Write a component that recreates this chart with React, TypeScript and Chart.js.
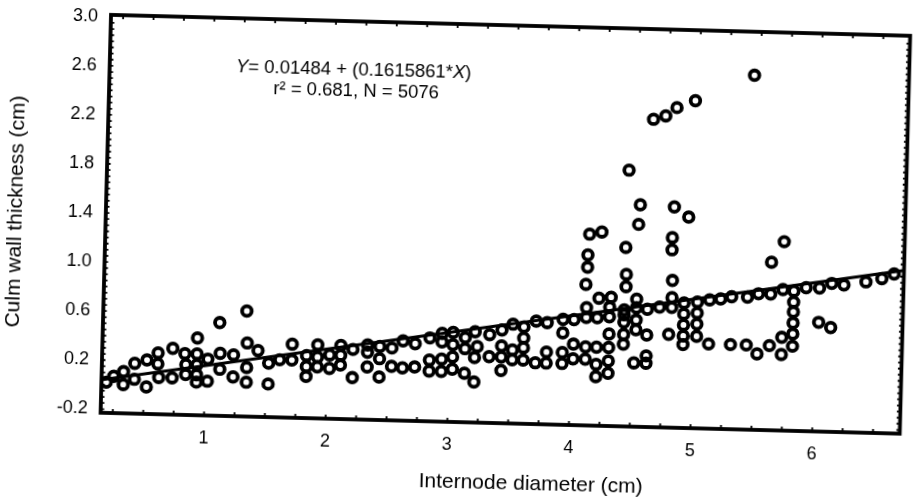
import React, { useEffect, useRef } from "react";
import { Chart, registerables } from "chart.js";

Chart.register(...registerables);

// Axis ticks and ranges
const xTickValues = [1, 2, 3, 4, 5, 6];
const yTickValues = [-0.2, 0.2, 0.6, 1.0, 1.4, 1.8, 2.2, 2.6, 3.0];
const xRange = [0.15, 6.72];
const yRange = [-0.23, 3.015];

// Regression stated on the chart
const intercept = 0.01484;
const slope = 0.1615861;
const equationParts: [string, boolean][] = [
  ["Y", true],
  ["= 0.01484 + (0.1615861*", false],
  ["X", true],
  [")", false],
];
const statsLine = "r\u00B2 = 0.681, N = 5076";

const xTitle = "Internode diameter (cm)";
const yTitle = "Culm wall thickness (cm)";

const diameter = [
  0.19, 0.25, 0.33, 0.33, 0.42, 0.42, 0.52, 0.52, 0.61, 0.61, 0.62, 0.73, 0.73, 0.83, 0.84, 0.84,
  0.93, 0.93, 0.93, 0.93, 0.93, 1.02, 1.02, 1.11, 1.12, 1.12, 1.23, 1.23, 1.33, 1.34, 1.34, 1.34,
  1.43, 1.52, 1.52, 1.61, 1.71, 1.71, 1.83, 1.83, 1.83, 1.92, 1.92, 1.92, 2.02, 2.02, 2.11, 2.11,
  2.11, 2.21, 2.21, 2.33, 2.33, 2.33, 2.43, 2.43, 2.43, 2.53, 2.53, 2.62, 2.62, 2.72, 2.72, 2.84,
  2.84, 2.84, 2.94, 2.94, 2.94, 2.94, 3.03, 3.03, 3.03, 3.03, 3.13, 3.13, 3.13, 3.21, 3.21, 3.21,
  3.23, 3.33, 3.33, 3.43, 3.43, 3.43, 3.43, 3.52, 3.52, 3.52, 3.61, 3.61, 3.61, 3.61, 3.71, 3.71,
  3.80, 3.80, 3.80, 3.93, 3.93, 3.93, 3.93, 4.02, 4.02, 4.02, 4.12, 4.12, 4.12, 4.21, 4.21, 4.21,
  4.21, 4.31, 4.31, 4.31, 4.31, 4.31, 4.43, 4.43, 4.43, 4.43, 4.53, 4.53, 4.53, 4.62, 4.62, 4.52,
  4.62, 4.62, 4.72, 4.80, 4.82, 4.82, 4.82, 4.92, 4.92, 4.92, 4.92, 4.92, 5.03, 5.03, 5.03, 5.03,
  5.13, 5.13, 5.22, 5.31, 5.31, 5.44, 5.44, 5.53, 5.53, 5.63, 5.63, 5.63, 5.73, 5.73, 5.73, 5.73,
  5.82, 5.82, 5.82, 5.82, 5.82, 5.82, 5.92, 6.03, 6.03, 6.13, 6.13, 6.23, 6.41, 6.54, 6.64,
  5.45, 4.63, 4.73, 4.82, 4.97, 4.44, 4.54, 4.53, 4.82, 4.94, 4.13, 4.23, 4.12, 4.12, 4.11, 4.12,
  4.22, 4.32, 4.43, 4.44, 4.44, 4.81, 4.81, 4.53, 4.43, 4.31,
];
const thickness = [
  0.02, 0.07, 0.11, 0.005, 0.18, 0.05, 0.21, -0.01, 0.27, 0.18, 0.07, 0.31, 0.07, 0.27, 0.18, 0.10,
  0.40, 0.27, 0.18, 0.10, 0.04, 0.23, 0.05, 0.53, 0.28, 0.15, 0.27, 0.09, 0.63, 0.37, 0.17, 0.05,
  0.31, 0.21, 0.04, 0.24, 0.37, 0.24, 0.28, 0.19, 0.11, 0.37, 0.27, 0.19, 0.29, 0.18, 0.37, 0.29,
  0.21, 0.34, 0.11, 0.38, 0.32, 0.20, 0.37, 0.27, 0.12, 0.36, 0.21, 0.42, 0.20, 0.40, 0.21, 0.45,
  0.27, 0.18, 0.49, 0.42, 0.28, 0.18, 0.50, 0.40, 0.30, 0.20, 0.46, 0.37, 0.17, 0.51, 0.30, 0.10,
  0.39, 0.49, 0.31, 0.53, 0.40, 0.31, 0.20, 0.58, 0.37, 0.29, 0.56, 0.47, 0.39, 0.29, 0.61, 0.27,
  0.60, 0.36, 0.27, 0.63, 0.52, 0.36, 0.27, 0.63, 0.43, 0.31, 0.65, 0.41, 0.31, 0.65, 0.41, 0.27,
  0.17, 0.66, 0.52, 0.41, 0.30, 0.20, 0.68, 0.62, 0.52, 0.44, 0.74, 0.64, 0.56, 0.73, 0.52, 0.29,
  0.35, 0.29, 0.75, 0.53, 0.75, 0.83, 0.97, 0.79, 0.70, 0.61, 0.52, 0.45, 0.80, 0.71, 0.62, 0.52,
  0.82, 0.46, 0.83, 0.85, 0.46, 0.85, 0.46, 0.88, 0.39, 0.88, 0.46, 1.14, 1.31, 0.92, 0.53, 0.39,
  0.91, 0.82, 0.74, 0.65, 0.56, 0.46, 0.94, 0.94, 0.66, 0.98, 0.62, 0.97, 1.00, 1.03, 1.07,
  2.66, 2.28, 2.31, 2.38, 2.44, 1.86, 1.58, 1.42, 1.57, 1.49, 1.33, 1.35, 1.16, 1.06, 0.92, 0.73,
  0.81, 0.82, 1.23, 1.01, 0.91, 1.32, 1.22, 0.81, 0.72, 0.74,
];

const FONT = "'Liberation Sans', Arial, Helvetica, sans-serif";

const decorPlugin = {
  id: "decor",
  afterDraw(chart: any) {
    const { ctx, chartArea: a, scales } = chart;
    const xs = scales.x;
    const ys = scales.y;
    ctx.save();
    ctx.strokeStyle = "#000";
    ctx.fillStyle = "#000";
    // small inward tick marks on all four sides
    ctx.lineWidth = 1.8;
    ctx.beginPath();
    for (let i = 1; i * 0.25 < xRange[1]; i++) {
      const px = xs.getPixelForValue(i * 0.25);
      if (px <= a.left + 3 || px >= a.right - 3) continue;
      ctx.moveTo(px, a.bottom);
      ctx.lineTo(px, a.bottom - 4);
      ctx.moveTo(px, a.top);
      ctx.lineTo(px, a.top + 4);
    }
    for (let i = -4; i * 0.05 < yRange[1]; i++) {
      const py = ys.getPixelForValue(i * 0.05);
      if (py <= a.top + 3 || py >= a.bottom - 3) continue;
      ctx.moveTo(a.left, py);
      ctx.lineTo(a.left + 3.5, py);
      ctx.moveTo(a.right, py);
      ctx.lineTo(a.right - 3.5, py);
    }
    ctx.stroke();
    // frame
    ctx.lineWidth = 3.8;
    ctx.strokeRect(a.left, a.top, a.right - a.left, a.bottom - a.top);

    // equation
    ctx.textBaseline = "middle";
    ctx.textAlign = "left";
    const eqSize = 18.5;
    const fontFor = (it: boolean) => `${it ? "italic " : ""}${eqSize}px ${FONT}`;
    const widths = equationParts.map(([t, it]) => {
      ctx.font = fontFor(it);
      return ctx.measureText(t).width;
    });
    const total = widths.reduce((s, w) => s + w, 0);
    let x = a.left + 244 - total / 2;
    const eqY = a.top + 49;
    equationParts.forEach(([t, it], i) => {
      ctx.font = fontFor(it);
      ctx.fillText(t, x, eqY);
      x += widths[i];
    });
    ctx.font = `${eqSize}px ${FONT}`;
    ctx.textAlign = "center";
    ctx.fillText(statsLine, a.left + 247, a.top + 70);

    // axis titles
    ctx.font = `21px ${FONT}`;
    ctx.fillText(xTitle, (a.left + a.right) / 2 + 32, a.bottom + 60);
    ctx.save();
    ctx.translate(a.left - 90, (a.top + a.bottom) / 2);
    ctx.rotate(-Math.PI / 2);
    ctx.fillText(yTitle, 0, 0);
    ctx.restore();
    ctx.restore();
  },
};

export default function App() {
  const canvasRef = useRef<HTMLCanvasElement | null>(null);

  useEffect(() => {
    const canvas = canvasRef.current;
    if (!canvas) return;
    const points = diameter.map((d, i) => ({ x: d, y: thickness[i] }));
    const fitLine = xRange.map((v) => ({ x: v, y: intercept + slope * v }));
    const chart = new Chart(canvas, {
      type: "scatter",
      data: {
        datasets: [
          {
            type: "line",
            data: fitLine,
            borderColor: "#000",
            borderWidth: 3.2,
            pointRadius: 0,
            fill: false,
          } as any,
          {
            data: points,
            pointRadius: 4.8,
            pointBorderWidth: 3.8,
            borderColor: "#000",
            pointBorderColor: "#000",
            backgroundColor: "rgba(0,0,0,0)",
            pointBackgroundColor: "rgba(0,0,0,0)",
            showLine: false,
          } as any,
        ],
      },
      options: {
        responsive: false,
        animation: false,
        devicePixelRatio: 1,
        layout: { padding: { top: 24, right: 7, left: 0, bottom: 0 } },
        plugins: { legend: { display: false }, tooltip: { enabled: false } },
        scales: {
          x: {
            type: "linear",
            min: xRange[0],
            max: xRange[1],
            grid: { display: false, drawTicks: false },
            border: { display: false },
            afterBuildTicks: (s: any) => {
              s.ticks = xTickValues.map((v) => ({ value: v }));
            },
            afterFit: (s: any) => {
              s.height = 77;
            },
            ticks: {
              padding: 12,
              color: "#000",
              font: { family: FONT, size: 18 },
              maxRotation: 0,
              autoSkip: false,
              callback: (v: any) => String(v),
            },
          },
          y: {
            type: "linear",
            min: yRange[0],
            max: yRange[1],
            grid: { display: false, drawTicks: false },
            border: { display: false },
            afterBuildTicks: (s: any) => {
              s.ticks = yTickValues.map((v) => ({ value: v }));
            },
            afterFit: (s: any) => {
              s.width = 105;
            },
            ticks: {
              padding: 13,
              color: "#000",
              font: { family: FONT, size: 18 },
              autoSkip: false,
              callback: (v: any) => Number(v).toFixed(1),
            },
          },
        },
      },
      plugins: [decorPlugin],
    });
    return () => chart.destroy();
  }, []);

  return (
    <div style={{ position: "absolute", left: 0, top: 0, width: 913, height: 499, background: "#fff" }}>
      <canvas
        ref={canvasRef}
        width={913}
        height={499}
        style={{
          display: "block",
          width: 913,
          height: 499,
          transform: "rotate(1.5deg)",
          transformOrigin: "456.5px 249.5px",
        }}
      />
    </div>
  );
}
